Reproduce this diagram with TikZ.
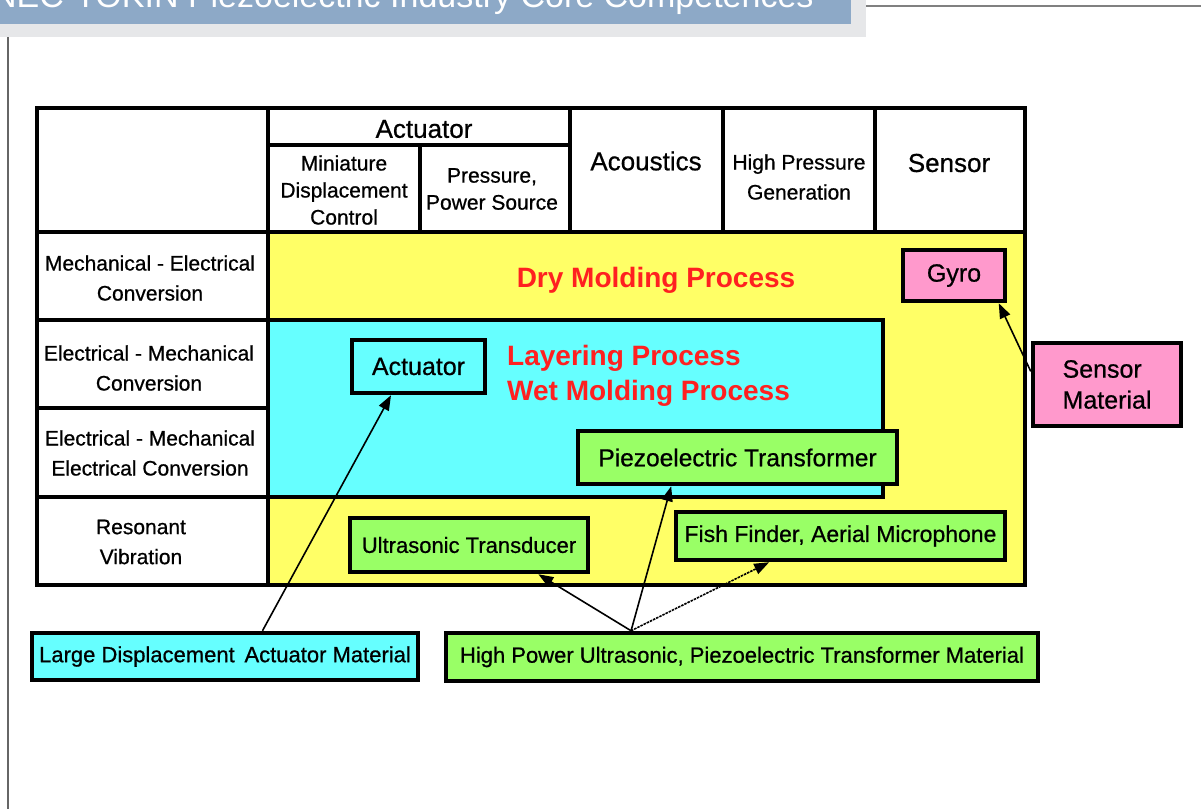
\documentclass[tikz,border=0pt]{standalone}
\usepackage{fontspec}
\setmainfont{Liberation Sans}
\newfontfamily\medfont{Liberation Sans}[FakeBold=0.7]
\usetikzlibrary{arrows.meta,calc}
\definecolor{yel}{HTML}{FFFF66}
\definecolor{cya}{HTML}{66FFFF}
\definecolor{grn}{HTML}{99FF66}
\definecolor{pnk}{HTML}{FF99CC}
\definecolor{redt}{HTML}{FF2020}
\definecolor{titlebar}{HTML}{8DA9C7}
\definecolor{shadowc}{HTML}{E6E7E9}
\tikzset{
  tab/.style={line width=4pt, line cap=rect},
  box/.style={draw=black, line width=4.5pt, inner sep=0pt, align=center},
  small/.style={align=center, font=\medfont\fontsize{21}{30}\selectfont},
  smallb/.style={align=center, font=\medfont\fontsize{21}{27}\selectfont},
  head/.style={align=center, font=\medfont\fontsize{26}{30}\selectfont},
  redlab/.style={text=redt, font=\bfseries\fontsize{28}{35}\selectfont},
  arr/.style={line width=1.6pt, -{Triangle[length=15pt,width=11pt]}},
}
\begin{document}
\begin{tikzpicture}[x=1pt,y=-1pt]
\useasboundingbox (0,0) rectangle (1201,809);
% title bar
\fill[shadowc] (0,0) rectangle (866,37);
\fill[titlebar] (0,0) rectangle (851,24);
\node[anchor=base west, text=white, inner sep=0pt, font=\fontsize{34}{36}\selectfont] (title) at (-8,7) {NEC-TOKIN Piezoelectric Industry Core Competences};
\draw[gray, line width=2pt] (866,6) -- (1201,6);
\draw[black!60, line width=1.3pt] (8,37) -- (8,809);
% table fills
\fill[yel] (268,232) rectangle (1025,585);
\filldraw[fill=cya, line width=4pt] (268,320) rectangle (883,497);
% table lines
\draw[tab] (37,108) rectangle (1025,585);
\draw[tab] (268,108) -- (268,585);
\draw[tab] (37,232) -- (1025,232);
\draw[tab] (37,320) -- (268,320);
\draw[tab] (37,408) -- (268,408);
\draw[tab] (37,497) -- (268,497);
\draw[tab] (268,145) -- (570,145);
\draw[tab] (420,145) -- (420,232);
\draw[tab] (570,108) -- (570,232);
\draw[tab] (723,108) -- (723,232);
\draw[tab] (875,108) -- (875,232);
% header texts
\node[head] (hact) at (424,129) {Actuator};
\node[smallb] (hmini) at (344,190) {Miniature\\Displacement\\Control};
\node[smallb] (hpress) at (492,189) {Pressure,\\Power Source};
\node[head] (hacou) at (646,161) {Acoustics};
\node[small] (hhigh) at (799,177) {High Pressure\\Generation};
\node[head] (hsens) at (949,163) {Sensor};
% row texts
\node[small] (r1) at (150,278) {Mechanical - Electrical\\Conversion};
\node[small] (r2) at (149,368) {Electrical - Mechanical\\Conversion};
\node[small] (r3) at (150,453) {Electrical - Mechanical\\Electrical Conversion};
\node[small] (r4) at (141,542) {Resonant\\Vibration};
% red labels
\node[redlab] (dry) at (656,280) {Dry Molding Process};
\node[redlab, anchor=west, align=left, inner sep=0pt] (layer) at (507,376) {Layering Process\\Wet Molding Process};
% boxes
\node[box, fill=cya, minimum width=133pt, minimum height=53pt, font=\medfont\fontsize{25}{30}\selectfont] (act) at (418.5,366.5) {Actuator};
\node[box, fill=pnk, minimum width=102pt, minimum height=51pt, font=\medfont\fontsize{25}{30}\selectfont] (gyro) at (954,275.5) {Gyro};
\node[box, fill=pnk, minimum width=148pt, minimum height=83pt, align=left, font=\medfont\fontsize{25}{31}\selectfont] (sm) at (1107,384.5) {Sensor\\Material};
\node[box, fill=grn, minimum width=319pt, minimum height=53pt, font=\medfont\fontsize{24.5}{30}\selectfont] (pt) at (737.5,457.5) {Piezoelectric Transformer};
\node[box, fill=grn, minimum width=238pt, minimum height=54pt, font=\medfont\fontsize{22}{30}\selectfont] (ut) at (469,545) {Ultrasonic Transducer};
\node[box, fill=grn, minimum width=329pt, minimum height=48pt, font=\medfont\fontsize{23}{30}\selectfont] (ff) at (840.5,536) {Fish Finder, Aerial Microphone};
\node[box, fill=cya, minimum width=386pt, minimum height=47pt, font=\medfont\fontsize{22}{30}\selectfont] (ldam) at (225,656.5) {Large Displacement\, Actuator Material};
\node[box, fill=grn, minimum width=592pt, minimum height=48pt, font=\medfont\fontsize{22}{30}\selectfont] (hp) at (742,657) {High Power Ultrasonic, Piezoelectric Transformer Material};
% arrows
\draw[arr] ($(ldam.north west)!0.596!(ldam.north east)$) -- ($(act.south west)!0.30!(act.south east)$);
\draw[arr] ($(hp.north west)!0.314!(hp.north east)$) -- ($(ut.south west)!0.786!(ut.south east)$);
\draw[arr] ($(hp.north west)!0.314!(hp.north east)$) -- ($(pt.south west)!0.295!(pt.south east)$);
\draw[arr, dash pattern=on 2.5pt off 1pt] ($(hp.north west)!0.314!(hp.north east)$) -- ($(ff.south west)!0.286!(ff.south east)$);
\draw[arr] ($(sm.north west)!0.35!(sm.south west)$) -- ($(gyro.south west)!0.92!(gyro.south east)$);
\end{tikzpicture}
\end{document}
